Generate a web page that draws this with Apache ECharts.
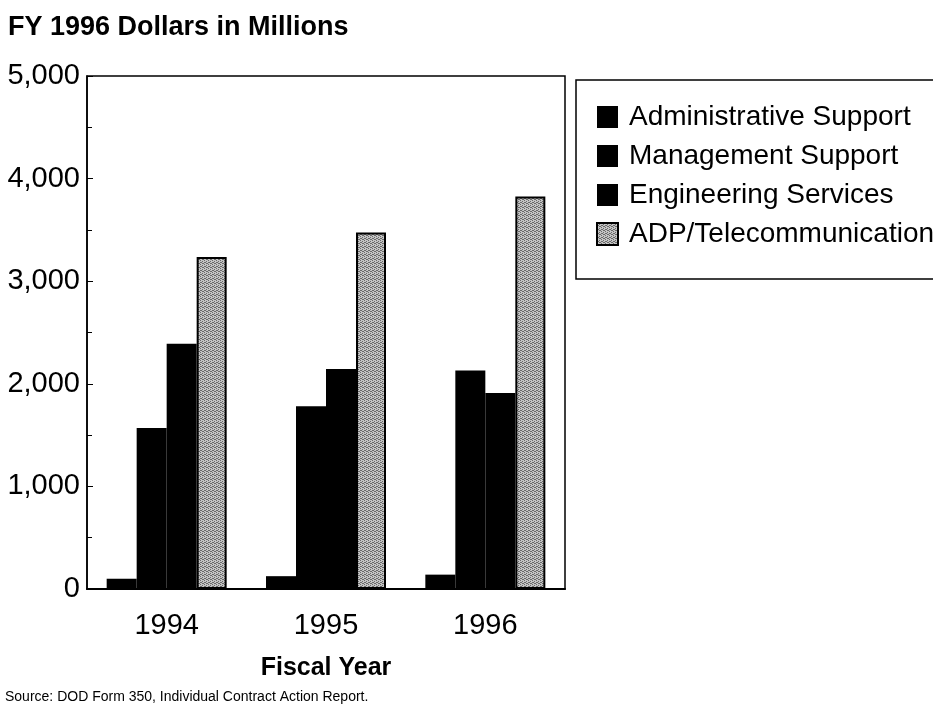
<!DOCTYPE html>
<html>
<head>
<meta charset="utf-8">
<script src="https://cdn.jsdelivr.net/npm/echarts@6/dist/echarts.min.js"></script>
<style>
html,body{margin:0;padding:0;background:#fff;}
#chart{width:933px;height:715px;}
</style>
</head>
<body>
<div id="chart"></div>
<script>
const categories = ['1994', '1995', '1996'];
const adminSupport = [100, 125, 140];
const managementSupport = [1570, 1780, 2130];
const engineeringServices = [2390, 2145, 1910];
const adpTelecom = [3235, 3475, 3825];
const yTicks = [0, 1000, 2000, 3000, 4000, 5000];

const FONT = "'Liberation Sans', Arial, Helvetica, sans-serif";

// stipple pattern for ADP bars
function makePattern() {
  const c = document.createElement('canvas');
  c.width = 4; c.height = 4;
  const g = c.getContext('2d');
  g.fillStyle = '#c4c4c4';
  g.fillRect(0, 0, 4, 4);
  g.fillStyle = '#6a6a6a';
  const dots = [[0,0],[2,1],[1,2],[3,3],[2,3],[0,2]];
  dots.forEach(d => g.fillRect(d[0], d[1], 1, 1));
  return c;
}
const pattern = { image: makePattern(), repeat: 'repeat' };

const chart = echarts.init(document.getElementById('chart'), null, { renderer: 'canvas' });

const barBase = { type: 'bar', barWidth: 30, barGap: '0%' };

chart.setOption({
  backgroundColor: '#fff',
  animation: false,
  title: [
    { text: 'FY 1996 Dollars in Millions', left: 3, top: 9,
      textStyle: { fontFamily: FONT, fontWeight: 'bold', fontSize: 27, color: '#000' } },
    { text: 'Source: DOD Form 350, Individual Contract Action Report.', left: 0, top: 685,
      textStyle: { fontFamily: FONT, fontWeight: 'normal', fontSize: 14, color: '#000' } }
  ],
  legend: {
    orient: 'vertical',
    left: 576, top: 80,
    itemWidth: 21, itemHeight: 22, itemGap: 11,
    padding: [23, 40, 31, 20],
    borderColor: '#000', borderWidth: 1.5,
    icon: 'rect',
    textStyle: { fontFamily: FONT, fontSize: 28, color: '#000', padding: [0, 0, 0, 6] },
    data: ['Administrative Support', 'Management Support', 'Engineering Services', 'ADP/Telecommunications']
  },
  grid: { left: 87, top: 76, width: 478, height: 513, show: true, borderColor: '#000', borderWidth: 1.5,
    containLabel: false, outerBoundsMode: 'none' },
  xAxis: {
    type: 'category',
    data: categories,
    boundaryGap: true,
    axisLine: { lineStyle: { color: '#000', width: 2 } },
    axisTick: { show: false },
    axisLabel: { fontFamily: FONT, fontSize: 29, color: '#000', margin: 22 },
    name: 'Fiscal Year',
    nameLocation: 'middle',
    nameGap: 67,
    nameTextStyle: { fontFamily: FONT, fontWeight: 'bold', fontSize: 25, color: '#000' }
  },
  yAxis: {
    type: 'value',
    min: yTicks[0], max: yTicks[yTicks.length - 1], interval: 1000,
    axisLine: { show: true, lineStyle: { color: '#000', width: 1.5 } },
    axisTick: { show: true, inside: true, length: 6, lineStyle: { color: '#000' } },
    minorTick: { show: true, splitNumber: 2, length: 5, lineStyle: { color: '#000' } },
    splitLine: { show: false },
    axisLabel: { fontFamily: FONT, fontSize: 29, color: '#000', margin: 7,
      formatter: v => v.toLocaleString('en-US') }
  },
  series: [
    Object.assign({}, barBase, { name: 'Administrative Support', data: adminSupport, itemStyle: { color: '#000' } }),
    Object.assign({}, barBase, { name: 'Management Support', data: managementSupport, itemStyle: { color: '#000' } }),
    Object.assign({}, barBase, { name: 'Engineering Services', data: engineeringServices, itemStyle: { color: '#000' } }),
    Object.assign({}, barBase, { name: 'ADP/Telecommunications', data: adpTelecom,
      itemStyle: { color: pattern, borderColor: '#000', borderWidth: 2 } })
  ]
});
</script>
</body>
</html>
